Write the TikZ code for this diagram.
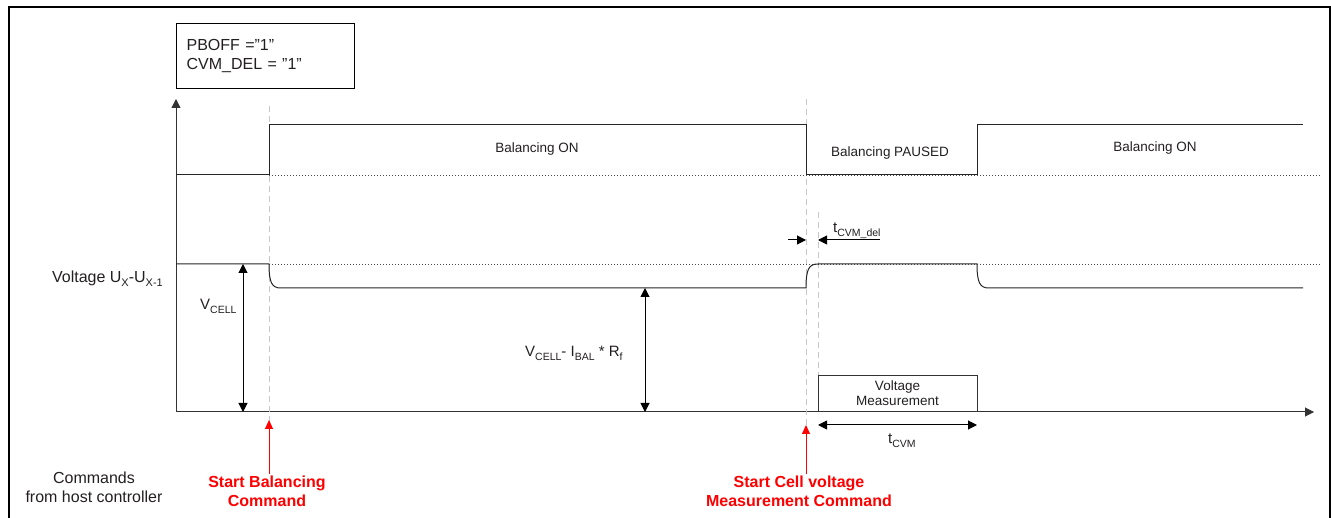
\documentclass[tikz,border=0pt]{standalone}
\usepackage{fontspec}
\setmainfont{Liberation Sans}
\usetikzlibrary{arrows.meta}
\newcommand{\lowsub}[2][10.5]{\raisebox{-0.45ex}{\fontsize{#1}{#1}\selectfont #2}}
\definecolor{txt}{HTML}{231F20}
\definecolor{cmdred}{HTML}{FF0000}
\begin{document}
\begin{tikzpicture}[x=1pt,y=-1pt,
  font=\fontsize{13.5}{15}\selectfont, text=txt,
  sig/.style={line width=1pt, draw=black!85},
  refline/.style={line width=0.7pt, draw=black!70, dash pattern=on 1pt off 2pt},
  guide/.style={line width=1pt, draw=black!22, dash pattern=on 6pt off 4pt},
  dim/.style={line width=1pt, draw=black, {Triangle[length=9pt,width=9pt]}-{Triangle[length=9pt,width=9pt]}},
  tip/.style={line width=1pt, draw=black, -{Triangle[length=9pt,width=9pt]}},
  cmd/.style={line width=1pt, draw=cmdred, -{Triangle[length=9pt,width=8pt]}},
  big/.style={font=\fontsize{16}{18.5}\selectfont},
  mid/.style={font=\fontsize{15}{17}\selectfont},
  cmdtext/.style={text=cmdred, font=\fontsize{16}{19}\selectfont\bfseries, align=center},
  lab/.style={inner sep=0pt, align=center}]
\useasboundingbox (0,0) rectangle (1331,518);
% outer frame
\draw[line width=2pt] (8.5,530) -- (8.5,7.5) -- (1329.5,7.5) -- (1329.5,530);
% settings box
\node[draw, line width=1.3pt, minimum width=178pt, minimum height=65pt, anchor=north west,
      align=left, inner xsep=10pt, inner ysep=0pt, text width=158pt, big] (set) at (176,23)
      {PBOFF ="1"\\CVM\_DEL = "1"};
% axes
\coordinate (o) at (176,412);
\coordinate (ytop) at (176,99);
\coordinate (xend) at (1314,412);
\draw[tip, draw=black!80] (o) -- (ytop);
\draw[tip, draw=black!80] (o) -- (xend);
% guide lines
\coordinate (g1t) at (269,106); \coordinate (g1b) at (269,422);
\coordinate (g2t) at (806,99);  \coordinate (g2b) at (806,425);
\coordinate (g3t) at (818,212); \coordinate (g3b) at (818,412);
\draw[guide] (g1t) -- (g1b);
\draw[guide] (g2t) -- (g2b);
\draw[guide] (g3t) -- (g3b);
% balancing signal
\coordinate (b0) at (176,175); \coordinate (b1) at (269,175); \coordinate (b2) at (269,125);
\coordinate (b3) at (806,125); \coordinate (b4) at (806,175); \coordinate (b5) at (977,175);
\coordinate (b6) at (977,125); \coordinate (b7) at (1303,125); \coordinate (be) at (1321,175);
\draw[refline] (b1) -- (be);
\draw[sig] (b0) -- (b1) -- (b2) -- (b3) -- (b4) -- (b5) -- (b6) -- (b7);
\node[lab, anchor=base] (bon1) at (537,153) {Balancing ON};
\node[lab, anchor=base] (bpa) at (890,157) {Balancing PAUSED};
\node[lab, anchor=base] (bon2) at (1155,152) {Balancing ON};
% voltage signal
\coordinate (v0) at (176,264); \coordinate (v1) at (269,264); \coordinate (v2) at (281,288);
\coordinate (v3) at (806,288); \coordinate (v4) at (818,264); \coordinate (v5) at (977,264);
\coordinate (v6) at (989,288); \coordinate (v7) at (1303,288); \coordinate (ve) at (1321,264);
\draw[refline] (v1) -- (ve);
\draw[sig] (v0) -- (v1) .. controls (269,283) and (272,288) .. (v2) -- (v3)
  .. controls (806,269) and (809,264) .. (v4) -- (v5)
  .. controls (977,283) and (980,288) .. (v6) -- (v7);
\node[lab, big, anchor=base east] (vlab) at (163,283) {Voltage U\lowsub[11]{X}-U\lowsub[11]{X-1}};
% VCELL dimension
\coordinate (vc1) at (243,264); \coordinate (vc2) at (243,412);
\draw[dim] (vc1) -- (vc2);
\node[lab, mid, anchor=base west] (vcl) at (200,310) {V\lowsub{CELL}};
\coordinate (vb1) at (645,288); \coordinate (vb2) at (645,412);
\draw[dim] (vb1) -- (vb2);
\node[lab, mid, anchor=base west] (vbl) at (525,357) {V\lowsub{CELL}- I\lowsub{BAL} * R\lowsub{f}};
% tCVM_del
\coordinate (d1a) at (788,240); \coordinate (d1b) at (806,240);
\coordinate (d2a) at (880,240); \coordinate (d2b) at (818,240);
\draw[tip] (d1a) -- (d1b);
\draw[tip] (d2a) -- (d2b);
\node[lab, mid, anchor=base west] (tdl) at (833,233) {t\lowsub{CVM\_del}};
% voltage measurement box
\node[draw=black!80, line width=1pt, minimum width=159pt, minimum height=36pt, anchor=south west,
      inner sep=0pt] (vm) at (818,412) {};
\node[lab, anchor=base] (vmt1) at (897.5,391) {Voltage};
\node[lab, anchor=base] (vmt2) at (897.5,406) {Measurement};
\coordinate (tc1) at (818,425); \coordinate (tc2) at (977,425);
\draw[dim] (tc1) -- (tc2);
\node[lab, mid, anchor=base west] (tcl) at (888,444) {t\lowsub{CVM}};
% commands
\node[lab, big, anchor=north] (host) at (94,472) {Commands\\from host controller};
\node[cmdtext, inner sep=0pt, anchor=north] (c1) at (267,476) {Start Balancing\\Command};
\node[cmdtext, inner sep=0pt, anchor=north] (c2) at (799,476) {Start Cell voltage\\Measurement Command};
\coordinate (c1t) at (269,420); \coordinate (c2t) at (806,425);
\draw[cmd] (269,474) -- (c1t);
\draw[cmd] (806,474) -- (c2t);
\end{tikzpicture}
\end{document}
